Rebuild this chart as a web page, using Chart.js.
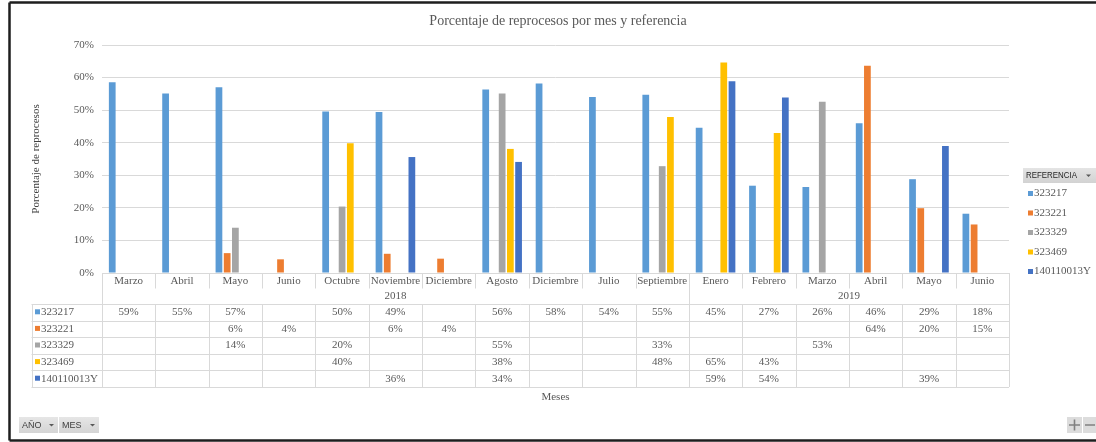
<!DOCTYPE html>
<html>
<head>
<meta charset="utf-8">
<script src="https://cdn.jsdelivr.net/npm/chart.js@4.4.1/dist/chart.umd.min.js"></script>
<style>
  html, body { margin: 0; padding: 0; background: #ffffff; }
  #wrap { width: 1096px; height: 442px; }
</style>
</head>
<body>
<div id="wrap"><canvas id="c" width="1096" height="442"></canvas></div>
<script>
// Categories (month within year) and the year each block of months belongs to
const months = ['Marzo', 'Abril', 'Mayo', 'Junio', 'Octubre', 'Noviembre', 'Diciembre', 'Agosto', 'Diciembre', 'Julio', 'Septiembre',
                'Enero', 'Febrero', 'Marzo', 'Abril', 'Mayo', 'Junio'];
const years = ['2018', '2019'];
const monthsPerYear = [11, 6];

// Rework percentage per reference (null = no data for that month)
const ref323217    = [58.6, 55.1, 57.0, null, 49.6, 49.4, null, 56.3, 58.2, 54.0, 54.7, 44.6, 26.8, 26.4, 46.0, 28.8, 18.2];
const ref323221    = [null, null, 6.1, 4.2, null, 5.9, 4.4, null, null, null, null, null, null, null, 63.6, 19.9, 14.9];
const ref323329    = [null, null, 13.9, null, 20.4, null, null, 55.1, null, null, 32.8, null, null, 52.6, null, null, null];
const ref323469    = [null, null, null, null, 39.8, null, null, 38.1, null, null, 47.9, 64.6, 43.0, null, null, null, null];
const ref140110013Y = [null, null, null, null, null, 35.6, null, 34.1, null, null, null, 58.9, 53.9, null, null, 39.0, null];

const seriesNames = ['323217', '323221', '323329', '323469', '140110013Y'];
const seriesValues = [ref323217, ref323221, ref323329, ref323469, ref140110013Y];
const seriesColors = ['#5B9BD5', '#ED7D31', '#A5A5A5', '#FFC000', '#4472C4'];

// Y axis ticks
const yTickMax = 70;
const yTickStep = 10;

const SERIF = '"Liberation Serif", "Times New Roman", serif';
const SANS = '"Liberation Sans", Arial, sans-serif';
const TEXT = '#595959';
const LINE = '#d9d9d9';

// Draws the title, the data table under the plot, the legend and the pivot buttons
const decorations = {
  id: 'decorations',
  afterDraw(chart) {
    const ctx = chart.ctx;
    const area = chart.chartArea;
    const xs = chart.scales.x;
    const n = months.length;
    const cw = (area.right - area.left) / n;
    const px = v => Math.round(v) + 0.5;

    ctx.save();

    // chart title
    ctx.fillStyle = TEXT;
    ctx.font = '14px ' + SERIF;
    ctx.textAlign = 'center';
    ctx.textBaseline = 'middle';
    ctx.fillText('Porcentaje de reprocesos por mes y referencia', 558, 21.5);

    // data table geometry
    const top = area.bottom;
    const monthRowBottom = top + 15.5;
    const rowsTop = top + 31;
    const rowH = 16.6;
    const tableBottom = rowsTop + rowH * seriesNames.length;
    const labelLeft = 31.5;

    ctx.strokeStyle = LINE;
    ctx.lineWidth = 1;
    ctx.beginPath();
    // year-block boundaries
    const yearEdges = [0];
    monthsPerYear.forEach(c => yearEdges.push(yearEdges[yearEdges.length - 1] + c));
    for (let i = 0; i <= n; i++) {
      const x = px(area.left + i * cw);
      if (yearEdges.includes(i)) {
        ctx.moveTo(x, top); ctx.lineTo(x, tableBottom);
      } else {
        ctx.moveTo(x, top); ctx.lineTo(x, monthRowBottom);
        ctx.moveTo(x, rowsTop); ctx.lineTo(x, tableBottom);
      }
    }
    for (let r = 0; r <= seriesNames.length; r++) {
      const y = px(rowsTop + r * rowH);
      ctx.moveTo(labelLeft, y); ctx.lineTo(area.right, y);
    }
    ctx.moveTo(px(labelLeft), rowsTop); ctx.lineTo(px(labelLeft), tableBottom);
    ctx.stroke();

    // month and year headers
    ctx.fillStyle = TEXT;
    ctx.font = '11px ' + SERIF;
    ctx.textAlign = 'center';
    months.forEach((m, i) => ctx.fillText(m, xs.getPixelForValue(i), top + 8));
    years.forEach((yr, k) => {
      const x0 = area.left + yearEdges[k] * cw;
      const x1 = area.left + yearEdges[k + 1] * cw;
      ctx.fillText(yr, (x0 + x1) / 2, top + 23.5);
    });

    // series rows
    seriesNames.forEach((name, r) => {
      const cy = rowsTop + r * rowH + rowH / 2;
      ctx.fillStyle = seriesColors[r];
      ctx.fillRect(35, cy - 3, 5, 5);
      ctx.fillStyle = TEXT;
      ctx.textAlign = 'left';
      ctx.fillText(name, 41, cy);
      ctx.textAlign = 'center';
      seriesValues[r].forEach((v, i) => {
        if (v === null) return;
        ctx.fillText(Math.round(v) + '%', xs.getPixelForValue(i), cy);
      });
    });

    // x axis title
    ctx.fillText('Meses', (area.left + area.right) / 2, tableBottom + 10);

    // legend with its field header
    const lx = 1023, ly = 168;
    const g = ctx.createLinearGradient(0, ly, 0, ly + 15);
    g.addColorStop(0, '#e4e4e4'); g.addColorStop(1, '#d2d2d2');
    ctx.fillStyle = g;
    ctx.fillRect(lx, ly, 1096 - lx, 15);
    ctx.fillStyle = '#262626';
    ctx.font = '9px ' + SANS;
    ctx.textAlign = 'left';
    ctx.save();
    ctx.translate(lx + 3, ly + 8);
    ctx.scale(0.88, 1);
    ctx.fillText('REFERENCIA', 0, 0);
    ctx.restore();
    ctx.beginPath();
    ctx.moveTo(1086, ly + 6.5); ctx.lineTo(1091, ly + 6.5); ctx.lineTo(1088.5, ly + 9);
    ctx.closePath();
    ctx.fillStyle = '#595959';
    ctx.fill();

    ctx.font = '11px ' + SERIF;
    seriesNames.forEach((name, r) => {
      const cy = 193.5 + r * 19.5;
      ctx.fillStyle = seriesColors[r];
      ctx.fillRect(1028, cy - 2.5, 5, 5);
      ctx.fillStyle = TEXT;
      ctx.fillText(name, 1034, cy);
    });

    // pivot field buttons
    const button = (x, w, label) => {
      const bg = ctx.createLinearGradient(0, 417, 0, 433);
      bg.addColorStop(0, '#e6e6e6'); bg.addColorStop(1, '#d4d4d4');
      ctx.fillStyle = bg;
      ctx.fillRect(x, 417, w, 16);
      ctx.fillStyle = '#404040';
      ctx.font = '9px ' + SANS;
      ctx.textAlign = 'left';
      ctx.fillText(label, x + 3, 425.5);
      const tx = x + w - 9;
      ctx.beginPath();
      ctx.moveTo(tx, 424); ctx.lineTo(tx + 5, 424); ctx.lineTo(tx + 2.5, 426.5);
      ctx.closePath();
      ctx.fillStyle = '#595959';
      ctx.fill();
    };
    button(19, 39, 'AÑO');
    button(59, 40, 'MES');

    // zoom buttons
    ctx.fillStyle = '#dcdcdc';
    ctx.fillRect(1067, 417, 15, 16);
    ctx.fillRect(1083, 417, 13, 16);
    ctx.strokeStyle = '#808080';
    ctx.lineWidth = 1.6;
    ctx.beginPath();
    ctx.moveTo(1069, 425); ctx.lineTo(1080, 425);
    ctx.moveTo(1074.5, 419.5); ctx.lineTo(1074.5, 430.5);
    ctx.moveTo(1085, 425); ctx.lineTo(1095, 425);
    ctx.stroke();

    // outer frame
    ctx.strokeStyle = '#1e1e1e';
    ctx.lineWidth = 2.5;
    ctx.beginPath();
    ctx.moveTo(9.5, 2.5); ctx.lineTo(1096, 2.5);
    ctx.moveTo(9.5, 2.5); ctx.lineTo(9.5, 440.5);
    ctx.moveTo(9.5, 440.5); ctx.lineTo(1096, 440.5);
    ctx.stroke();

    ctx.restore();
  }
};

new Chart(document.getElementById('c'), {
  type: 'bar',
  data: {
    labels: months,
    datasets: seriesNames.map((name, k) => ({
      label: name,
      data: seriesValues[k],
      backgroundColor: seriesColors[k],
      borderWidth: 0,
      categoryPercentage: 0.77,
      barPercentage: 0.82
    }))
  },
  options: {
    responsive: false,
    animation: false,
    devicePixelRatio: 1,
    layout: { padding: { left: 10, right: 87, top: 45, bottom: 169 } },
    plugins: {
      legend: { display: false },
      title: { display: false },
      tooltip: { enabled: false }
    },
    scales: {
      x: { display: false },
      y: {
        min: 0,
        max: yTickMax,
        afterFit: s => { s.width = 92; },
        border: { display: false },
        grid: { color: LINE, drawTicks: false },
        ticks: {
          stepSize: yTickStep,
          padding: 8,
          color: TEXT,
          font: { family: SERIF, size: 11 },
          callback: v => v + '%'
        },
        title: {
          display: true,
          text: 'Porcentaje de reprocesos',
          color: '#404040',
          font: { family: SERIF, size: 11 },
          padding: { top: 20, bottom: 0 }
        }
      }
    }
  },
  plugins: [decorations]
});
</script>
</body>
</html>
